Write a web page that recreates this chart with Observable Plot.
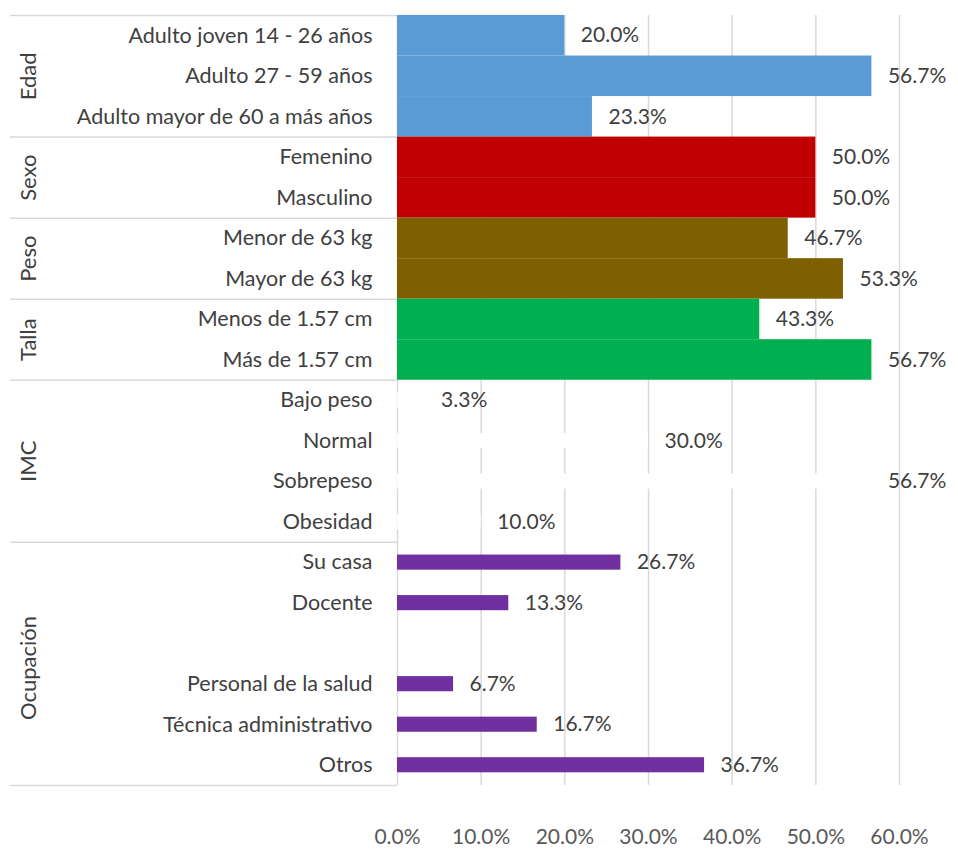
<!DOCTYPE html>
<html><head><meta charset="utf-8">
<script src="https://cdn.jsdelivr.net/npm/d3@7"></script>
<script src="https://cdn.jsdelivr.net/npm/@observablehq/plot@0.6"></script>
<style>
html,body{margin:0;padding:0;background:#fff;overflow:hidden;}
svg{display:block;}
</style></head><body><div id="chart"></div>
<script>
// ---- data ----
const groupNames = ["Edad","Sexo","Peso","Talla","IMC","Ocupación"];
const edadCats = ["Adulto joven 14 - 26 años","Adulto 27 - 59 años","Adulto mayor de 60 a más años"];
const edadVals = [20.0, 56.7, 23.3];
const sexoCats = ["Femenino","Masculino"];
const sexoVals = [50.0, 50.0];
const pesoCats = ["Menor de 63 kg","Mayor de 63 kg"];
const pesoVals = [46.7, 53.3];
const tallaCats = ["Menos de 1.57 cm","Más de 1.57 cm"];
const tallaVals = [43.3, 56.7];
const imcCats = ["Bajo peso","Normal","Sobrepeso","Obesidad"];
const imcVals = [3.3, 30.0, 56.7, 10.0];
const ocupCats = ["Su casa","Docente","","Personal de la salud","Técnica administrativo","Otros"];
const ocupVals = [26.7, 13.3, null, 6.7, 16.7, 36.7];
const xTicks = [0, 10, 20, 30, 40, 50, 60];

// ---- styles ----
const groupColor = {Edad:"#5B9BD5", Sexo:"#C00000", Peso:"#7F6000", Talla:"#00B050", IMC:"#FFFFFF", "Ocupación":"#7030A0"};
const thickGroups = new Set(["Edad","Sexo","Peso","Talla"]);
const FONT = "Lato, 'Open Sans', sans-serif";

// ---- build table ----
const catsList = [edadCats, sexoCats, pesoCats, tallaCats, imcCats, ocupCats];
const valsList = [edadVals, sexoVals, pesoVals, tallaVals, imcVals, ocupVals];
const rows = [];
const groups = [];
let k = 0;
groupNames.forEach((g, gi) => {
  const start = k;
  catsList[gi].forEach((c, j) => { rows.push({group: g, cat: c, value: valsList[gi][j], i: k}); k++; });
  const filled = rows.filter(r => r.group === g && r.value != null).map(r => r.i);
  groups.push({group: g, start, end: k - 1, mid: d3.mean(filled)});
});
const N = k;
const bounds = [-0.5, ...groups.map(g => g.end + 0.5)];
const withVal = rows.filter(d => d.value != null);

const W = 958, H = 852, ML = 397;
const plot = Plot.plot({
  width: W, height: H,
  marginLeft: ML, marginRight: 0, marginTop: 15, marginBottom: 67,
  style: {fontFamily: FONT, background: "#fff", overflow: "visible"},
  x: {domain: [0, 67.05], axis: null},
  y: {domain: [-0.5, N - 0.5], reverse: true, axis: null},
  marks: [
    Plot.ruleX(xTicks.filter(d => d > 0), {stroke: "#d9d9d9", strokeWidth: 1.5}),
    Plot.ruleX([0], {stroke: "#d9d9d9", strokeWidth: 1.5}),
    Plot.ruleY(bounds, {stroke: "#d9d9d9", strokeWidth: 1.5, insetLeft: -(ML - 10), insetRight: W - ML}),
    Plot.rectX(withVal.filter(d => thickGroups.has(d.group)), {
      x1: 0, x2: "value", y1: d => d.i - 0.5, y2: d => d.i + 0.5,
      fill: d => groupColor[d.group]
    }),
    Plot.rectX(withVal.filter(d => !thickGroups.has(d.group)), {
      x1: 0, x2: "value", y1: d => d.i - 0.5, y2: d => d.i + 0.5,
      insetTop: 12.7, insetBottom: 12.7,
      fill: d => groupColor[d.group]
    }),
    Plot.text(withVal, {
      x: "value", y: "i", text: d => d.value.toFixed(1) + "%",
      textAnchor: "start", dx: 16, fill: "#404040", fontSize: 21
    }),
    Plot.text(rows, {
      y: "i", text: "cat", frameAnchor: "left", textAnchor: "end", dx: -25,
      fill: "#404040", fontSize: 21.5
    }),
    Plot.text(groups, {
      y: "mid", text: "group", frameAnchor: "left", textAnchor: "middle", dx: -(ML - 28), rotate: -90,
      fill: "#404040", fontSize: 22
    }),
    Plot.text(xTicks, {
      x: d => d, text: d => d.toFixed(1) + "%", frameAnchor: "bottom", textAnchor: "middle", dy: 58,
      fill: "#595959", fontSize: 21
    })
  ]
});
document.getElementById("chart").appendChild(plot);
</script>
</body></html>
